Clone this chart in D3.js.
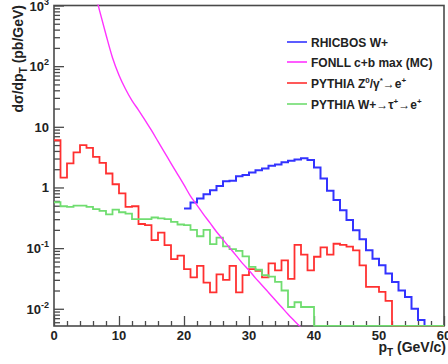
<!DOCTYPE html>
<html>
<head>
<meta charset="utf-8">
<script src="https://cdn.jsdelivr.net/npm/d3@7"></script>
<style>
  html, body { margin: 0; padding: 0; background: #fff; }
  svg { display: block; }
  text { font-family: "Liberation Sans", Arial, Helvetica, sans-serif; font-weight: bold; fill: #222; }
</style>
</head>
<body>
<svg id="chart" width="448" height="364"></svg>
<script>
// ---------------- data ----------------
const binWidth = 1; // GeV
// PYTHIA Z0/gamma* -> e+ (bins starting at 0 GeV)
const redStart = 0;
const redVals = [6.0, 1.45, 2.5, 3.8, 5.0, 4.5, 3.2, 2.55, 1.7, 1.13,
  0.80, 0.48, 0.49, 0.25, 0.24, 0.135, 0.18, 0.112, 0.066, 0.075,
  0.045, 0.033, 0.051, 0.027, 0.0187, 0.037, 0.030, 0.051, 0.0187, 0.036,
  0.045, 0.042, 0.033, 0.056, 0.043, 0.063, 0.031, 0.113, 0.078, 0.043,
  0.072, 0.103, 0.078, 0.118, 0.113, 0.106, 0.092, 0.052, 0.023, 0.023,
  0.019, 0.0135, 0, 0, 0, 0, 0, 0, 0, 0];
// PYTHIA W+ -> tau+ -> e+
const greenStart = 0;
const greenVals = [0.57, 0.49, 0.48, 0.50, 0.50, 0.48, 0.44, 0.41, 0.36, 0.43,
  0.39, 0.37, 0.30, 0.30, 0.30, 0.32, 0.31, 0.30, 0.27, 0.245,
  0.24, 0.20, 0.157, 0.20, 0.116, 0.149, 0.107, 0.096, 0.09, 0.073,
  0.049, 0.044, 0.036, 0.034, 0.0277, 0.020, 0.0107, 0.0128, 0.0107, 0.0107,
  0, 0, 0, 0, 0, 0, 0, 0, 0, 0, 0, 0, 0, 0, 0, 0, 0, 0, 0, 0];
// RHICBOS W+ (bins starting at 20 GeV)
const blueStart = 20;
const blueVals = [0.45, 0.565, 0.66, 0.775, 0.90, 1.06, 1.27, 1.29, 1.53, 1.6,
  1.77, 1.93, 2.06, 2.27, 2.39, 2.61, 2.75, 2.9, 3.04, 2.85,
  2.14, 1.41, 0.88, 0.62, 0.42, 0.29, 0.197, 0.14, 0.092, 0.067,
  0.052, 0.038, 0.0277, 0.020, 0.0157, 0.010, 0.0065, 0];
// FONLL c+b max (MC) curve
const fonllPt = [6, 7, 8, 9, 10, 11, 12, 13, 14, 15, 16, 17, 18, 19, 20, 21, 22,
  23, 24, 25, 26, 27, 28, 29, 30, 31, 32, 33, 34, 35, 36, 37, 38];
const fonllVals = [2200, 830, 330, 138, 71, 42, 27, 18.9, 12.9, 8.7, 5.75, 3.8, 2.5,
  1.66, 1.1, 0.72, 0.51, 0.36, 0.26, 0.186, 0.138, 0.102, 0.076, 0.056, 0.043,
  0.032, 0.0245, 0.0186, 0.0141, 0.0107, 0.0081, 0.0063, 0.0049];

const xTicks = [0, 10, 20, 30, 40, 50, 60];
const yExponents = [-2, -1, 0, 1, 2, 3];
const legendLabels = ["RHICBOS W+", "FONLL c+b max (MC)", "PYTHIA Z0/γ*→e+", "PYTHIA W+→τ+→e+"];

// ---------------- layout ----------------
const L = 54, R = 444, T = 5.5, B = 326;
const yMin = 0.0052, yMax = 1000;
const svg = d3.select("#chart");
const x = d3.scaleLinear().domain([0, 60]).range([L, R]);
const y = d3.scaleLog().domain([yMin, yMax]).range([B, T]);
const axisColor = "#4a4a4a";

// clip
svg.append("defs").append("clipPath").attr("id", "plotclip")
  .append("rect").attr("x", L).attr("y", T - 1).attr("width", R - L).attr("height", B - T + 1.5);

// ---------------- axes ----------------
const yMajors = yExponents.map(e => Math.pow(10, e));
const yMinors = [];
for (let d = -3; d <= 2; d++) for (let k = 2; k <= 9; k++) {
  const v = k * Math.pow(10, d);
  if (v >= yMin && v <= yMax) yMinors.push(v);
}
const gy1 = svg.append("g").attr("transform", `translate(${L},0)`)
  .call(d3.axisLeft(y).tickValues(yMajors).tickSize(-10).tickFormat(() => ""));
const gy2 = svg.append("g").attr("transform", `translate(${L},0)`)
  .call(d3.axisLeft(y).tickValues(yMinors).tickSize(-6).tickFormat(() => ""));
const xMinors = d3.range(0, 61, 2).filter(v => v % 10 !== 0);
const gx1 = svg.append("g").attr("transform", `translate(0,${B})`)
  .call(d3.axisBottom(x).tickValues(xTicks).tickSize(-10).tickFormat(() => ""));
const gx2 = svg.append("g").attr("transform", `translate(0,${B})`)
  .call(d3.axisBottom(x).tickValues(xMinors).tickSize(-5).tickFormat(() => ""));
[gy1, gy2, gx1, gx2].forEach(g => {
  g.select(".domain").remove();
  g.selectAll(".tick line").attr("stroke", axisColor).attr("stroke-width", 1.3);
});

// frame
svg.append("rect").attr("x", L).attr("y", T).attr("width", R - L).attr("height", B - T)
  .attr("fill", "none").attr("stroke", axisColor).attr("stroke-width", 1.6);

// y labels
yExponents.forEach(e => {
  const t = svg.append("text").attr("text-anchor", "end")
    .attr("x", 49).attr("y", y(Math.pow(10, e)) + 5).style("font-size", "13px");
  if (e === 0) t.text("1");
  else if (e === 1) t.text("10");
  else {
    t.append("tspan").text("10");
    t.append("tspan").attr("dy", -6).style("font-size", "9px").text(String(e));
  }
});
// x labels
xTicks.forEach(v => {
  svg.append("text").attr("text-anchor", "middle").attr("x", x(v)).attr("y", 340)
    .style("font-size", "13px").text(v);
});

// axis titles
const yt = svg.append("text").attr("text-anchor", "end")
  .attr("transform", "translate(23,5) rotate(-90)").style("font-size", "14px");
yt.append("tspan").text("dσ/dp");
yt.append("tspan").attr("dy", 4).style("font-size", "10px").text("T");
yt.append("tspan").attr("dy", -4).text(" (pb/GeV)");

const xt = svg.append("text").attr("text-anchor", "end").attr("x", 446).attr("y", 352)
  .style("font-size", "14px");
xt.append("tspan").text("p");
xt.append("tspan").attr("dy", 4).style("font-size", "10px").text("T");
xt.append("tspan").attr("dy", -4).text(" (GeV/c)");

// ---------------- histograms ----------------
const yv = v => (v > yMin ? y(v) : y(yMin));
function histPoints(start, vals) {
  const pts = vals.map((v, i) => [start + i * binWidth, v]);
  pts.push([start + vals.length * binWidth, vals[vals.length - 1]]);
  return pts;
}
const stepLine = d3.line().x(d => x(d[0])).y(d => yv(d[1])).curve(d3.curveStepAfter);
const plot = svg.append("g").attr("clip-path", "url(#plotclip)");

const series = [
  { start: blueStart, vals: blueVals, color: "#3333ff", w: 2 },
  { start: redStart, vals: redVals, color: "#ff3030", w: 1.8 },
  { start: greenStart, vals: greenVals, color: "#70dd70", w: 1.8 }
];
series.forEach(s => {
  plot.append("path").attr("d", stepLine(histPoints(s.start, s.vals)))
    .attr("fill", "none").attr("stroke", s.color).attr("stroke-width", s.w)
    .attr("stroke-linejoin", "miter");
});
const fonllLine = d3.line().x((d, i) => x(fonllPt[i])).y(d => y(d)).curve(d3.curveMonotoneX);
plot.append("path").attr("d", fonllLine(fonllVals))
  .attr("fill", "none").attr("stroke", "#ff33ff").attr("stroke-width", 1.4);

// ---------------- legend ----------------
const legColors = ["#3333ff", "#ff33ff", "#ff3030", "#70dd70"];
const legY = [42, 62, 83, 104];
legendLabels.forEach((lab, i) => {
  svg.append("line").attr("x1", 287).attr("x2", 307).attr("y1", legY[i]).attr("y2", legY[i])
    .attr("stroke", legColors[i]).attr("stroke-width", 1.6);
});
function legText(i) {
  return svg.append("text").attr("x", 311).attr("y", legY[i] + 4.5).style("font-size", "12px");
}
legText(0).text("RHICBOS W+");
legText(1).text("FONLL c+b max (MC)");
{
  const t = legText(2);
  t.append("tspan").text("PYTHIA Z");
  t.append("tspan").attr("dy", -5).style("font-size", "8px").text("0");
  t.append("tspan").attr("dy", 5).text("/γ");
  t.append("tspan").attr("dy", -5).style("font-size", "8px").text("*");
  t.append("tspan").attr("dy", 5).style("font-weight", "normal").text("→");
  t.append("tspan").text("e");
  t.append("tspan").attr("dy", -5).style("font-size", "8px").text("+");
}
{
  const t = legText(3);
  t.append("tspan").text("PYTHIA W+");
  t.append("tspan").style("font-weight", "normal").text("→");
  t.append("tspan").text("τ");
  t.append("tspan").attr("dy", -5).style("font-size", "8px").text("+");
  t.append("tspan").attr("dy", 5).style("font-weight", "normal").text("→");
  t.append("tspan").text("e");
  t.append("tspan").attr("dy", -5).style("font-size", "8px").text("+");
}
</script>
</body>
</html>
